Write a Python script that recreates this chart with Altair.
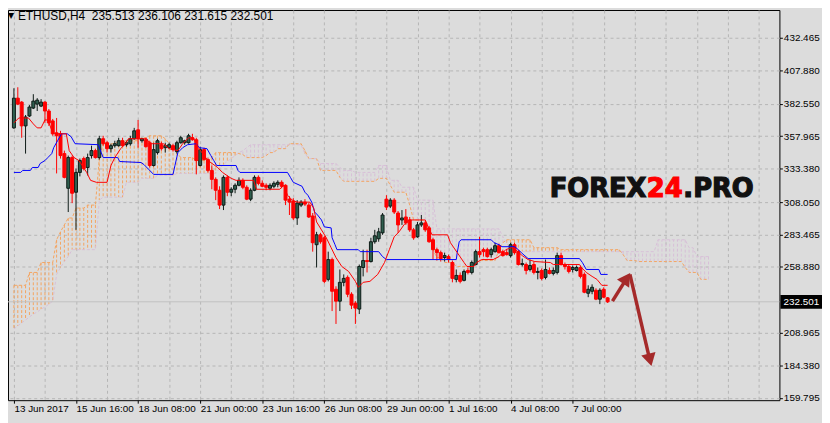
import json
import altair as alt
import pandas as pd

# ---------------- data ----------------
X_LABELS = ["13 Jun 2017", "15 Jun 16:00", "18 Jun 08:00", "21 Jun 00:00", "23 Jun 16:00",
            "26 Jun 08:00", "29 Jun 00:00", "1 Jul 16:00", "4 Jul 08:00", "7 Jul 00:00"]
Y_TICKS = [159.795, 184.380, 208.965, 258.880, 283.465, 308.050, 333.380, 357.965, 382.550, 407.880, 432.465]
LAST = 232.501
TITLE_SYMBOL = "ETHUSD,H4"
TITLE_VALUES = ["235.513", "236.106", "231.615", "232.501"]

OPEN = [364.25, 386.75, 383.75, 365.75, 373.25, 379.25, 382.25, 380.75, 383.75, 377.0,
        369.5, 360.5, 359.75, 344.75, 318.5, 341.75, 315.5, 330.5, 341.0, 334.25,
        343.25, 347.0, 341.75, 356.0, 353.0, 348.5, 350.75, 350.75, 354.5, 351.5,
        352.25, 356.0, 362.75, 354.5, 355.25, 353.0, 335.75, 345.5, 351.5, 349.25,
        349.25, 350.75, 346.25, 353.0, 353.0, 353.0, 356.75, 355.25, 335.75, 347.75,
        340.25, 332.0, 325.25, 317.0, 305.75, 326.75, 315.5, 317.75, 320.75, 324.5,
        319.25, 310.25, 317.0, 326.75, 322.25, 320.75, 318.5, 320.0, 321.5, 323.0,
        320.75, 310.25, 308.75, 296.0, 305.75, 308.0, 305.75, 297.5, 275.75, 283.25,
        281.0, 249.5, 264.5, 242.0, 233.0, 247.25, 251.0, 238.25, 231.5, 227.0,
        258.5, 263.75, 263.0, 278.0, 280.25, 284.75, 310.25, 305.0, 309.5, 299.75,
        294.5, 296.75, 294.5, 287.0, 281.75, 290.75, 292.25, 288.5, 279.5, 272.0,
        269.75, 266.0, 266.75, 262.25, 249.5, 252.5, 248.75, 256.25, 254.75, 260.75,
        270.5, 272.0, 272.0, 268.25, 270.5, 275.0, 270.5, 269.75, 267.5, 275.75,
        270.5, 260.75, 260.75, 257.0, 260.75, 254.75, 256.25, 251.0, 256.25, 254.0,
        254.75, 267.5, 260.75, 259.25, 257.0, 256.25, 258.5, 253.25, 239.0, 240.5,
        241.25, 234.5, 242.0, 235.513]
HIGH = [394.25, 395.0, 384.5, 374.0, 381.5, 389.75, 386.75, 386.0, 384.5, 378.5,
        371.0, 371.75, 362.0, 347.0, 343.25, 343.25, 333.5, 341.0, 342.5, 344.75,
        350.75, 348.5, 358.25, 358.25, 354.5, 352.25, 354.5, 356.75, 356.75, 354.5,
        358.25, 364.25, 370.25, 356.75, 356.75, 354.5, 353.0, 356.0, 353.75, 353.0,
        353.0, 352.25, 354.5, 358.25, 355.25, 359.75, 359.75, 356.75, 350.0, 349.25,
        341.75, 335.75, 326.75, 320.0, 328.25, 328.25, 319.25, 322.25, 326.75, 326.0,
        320.75, 318.5, 328.25, 328.25, 324.5, 322.25, 322.25, 323.75, 324.5, 324.5,
        321.5, 312.5, 311.0, 309.5, 309.5, 310.25, 307.25, 299.75, 285.5, 284.75,
        282.5, 270.5, 266.0, 244.25, 257.0, 253.25, 252.5, 239.75, 233.0, 260.75,
        272.0, 272.0, 281.0, 287.0, 288.5, 299.75, 313.25, 311.0, 311.0, 301.25,
        302.0, 302.75, 296.75, 288.5, 293.0, 298.25, 293.75, 290.0, 281.0, 273.5,
        271.25, 269.75, 268.25, 263.75, 257.0, 254.75, 257.0, 258.5, 263.75, 272.0,
        281.75, 273.5, 273.5, 273.5, 277.25, 276.5, 272.0, 272.0, 277.25, 277.25,
        272.0, 265.25, 262.25, 264.5, 263.0, 258.5, 257.75, 264.5, 258.5, 258.5,
        269.75, 269.75, 262.25, 260.75, 260.0, 260.0, 260.0, 254.75, 245.0, 245.75,
        242.75, 242.75, 243.5, 236.106]
LOW = [363.5, 381.5, 356.75, 344.75, 372.5, 378.5, 377.0, 380.0, 368.0, 365.75,
       358.25, 329.75, 341.0, 326.0, 300.5, 307.25, 287.0, 327.5, 332.0, 328.25,
       341.0, 341.0, 340.25, 350.75, 345.5, 345.5, 349.25, 350.0, 350.0, 350.0,
       350.75, 355.25, 349.25, 353.0, 349.25, 334.25, 335.0, 344.0, 347.0, 345.5,
       348.5, 346.25, 344.75, 352.25, 351.5, 352.25, 354.5, 329.0, 335.0, 339.5,
       330.5, 317.75, 309.5, 302.75, 302.0, 312.5, 312.5, 314.75, 320.0, 317.75,
       309.5, 308.75, 316.25, 320.75, 319.25, 317.0, 317.0, 318.5, 319.25, 318.5,
       305.75, 298.25, 294.5, 290.75, 304.25, 305.0, 296.0, 270.5, 258.5, 276.5,
       246.5, 248.0, 225.5, 215.75, 225.5, 244.25, 236.0, 227.0, 215.75, 223.25,
       251.75, 254.75, 262.25, 276.5, 278.0, 283.25, 302.0, 303.5, 299.0, 284.75,
       290.75, 290.75, 285.5, 279.5, 281.0, 289.25, 285.5, 277.25, 264.5, 263.75,
       263.0, 263.0, 262.25, 247.25, 247.25, 246.5, 248.0, 253.25, 253.25, 260.0,
       266.0, 266.75, 266.0, 266.0, 269.75, 269.0, 266.75, 267.5, 266.0, 268.25,
       260.0, 259.25, 253.25, 255.5, 253.25, 249.5, 248.75, 249.5, 253.25, 252.5,
       253.25, 260.0, 257.0, 254.0, 254.75, 255.5, 250.25, 239.0, 236.0, 238.25,
       233.75, 230.75, 235.25, 231.615]
CLOSE = [386.75, 382.25, 365.75, 372.5, 380.0, 384.5, 385.25, 383.75, 377.0, 368.0,
         359.75, 358.25, 343.25, 326.75, 341.75, 314.75, 330.5, 339.5, 333.5, 341.75,
         347.0, 341.75, 356.0, 352.25, 348.5, 350.75, 352.25, 354.5, 350.75, 353.0,
         356.0, 362.0, 356.0, 356.0, 350.0, 335.75, 347.75, 354.5, 348.5, 350.75,
         351.5, 347.75, 353.0, 356.75, 354.5, 358.25, 355.25, 339.5, 347.75, 340.25,
         332.0, 325.25, 317.0, 305.75, 326.75, 315.5, 317.75, 320.75, 324.5, 319.25,
         310.25, 317.0, 326.75, 322.25, 320.0, 319.25, 320.75, 322.25, 323.0, 320.0,
         309.5, 308.0, 296.0, 307.25, 308.0, 306.5, 296.75, 277.25, 283.25, 278.0,
         248.0, 264.5, 240.5, 233.0, 247.25, 250.25, 238.25, 230.0, 227.75, 259.25,
         263.75, 263.0, 278.0, 282.5, 285.5, 298.25, 304.25, 309.5, 300.5, 290.75,
         296.0, 292.25, 287.0, 281.0, 290.75, 292.25, 287.0, 278.0, 272.0, 269.75,
         265.25, 267.5, 264.5, 250.25, 252.5, 248.0, 255.5, 254.75, 262.25, 270.5,
         268.25, 270.5, 266.75, 272.0, 275.0, 269.75, 267.5, 268.25, 275.75, 269.75,
         260.75, 261.5, 256.25, 260.0, 254.75, 255.5, 250.25, 257.0, 254.0, 256.25,
         267.5, 260.75, 259.25, 255.5, 258.5, 258.5, 251.75, 239.75, 242.0, 243.5,
         234.5, 241.25, 236.0, 232.501]

TENKAN_I = [0, 1.25, 3.75, 5, 6, 7, 8, 8.75, 10, 11, 13.5, 14.25, 15.5, 16.75, 18.75, 19.75, 21.25, 24, 25, 26,
            27.5, 28.75, 29.5, 34.25, 35, 38.5, 40, 42.25, 43.5, 45, 46.25, 47.5, 50, 52.5, 53.75, 56, 57.25, 61.75,
            62.5, 68.5, 69.5, 70.5, 71.75, 73, 76.25, 77.25, 78, 79.25, 80.5, 81.75, 83, 84.5, 86.25, 88, 88.75, 90,
            91.75, 93.75, 95.5, 96.75, 98, 99.25, 100.5, 101.75, 106, 106.75, 107.75, 111.75, 112.5, 114.25, 116,
            116.75, 118.5, 119.25, 120.5, 123.5, 125, 126.75, 128.25, 129.25, 131, 132.5, 134.25, 138.25, 139,
            145.75, 146.25, 147.5, 149, 150.25, 151.5, 153]
TENKAN_P = [368.0, 371.75, 371.75, 367.25, 364.25, 364.25, 370.25, 370.25, 360.5, 359.75, 359.75, 347.0, 341.75,
            339.5, 330.5, 324.5, 323.0, 323.0, 335.75, 341.75, 348.5, 352.25, 356.0, 356.0, 352.25, 352.25, 348.5,
            347.0, 352.25, 356.75, 356.75, 349.25, 339.5, 334.25, 330.5, 326.0, 324.5, 324.5, 317.75, 317.75, 320.75,
            313.25, 309.5, 308.0, 308.0, 303.5, 293.0, 287.0, 281.0, 273.5, 266.0, 259.25, 255.5, 248.0, 243.5,
            247.25, 248.0, 253.25, 262.25, 272.0, 281.75, 285.5, 290.75, 294.5, 294.5, 289.25, 283.25, 283.25,
            277.25, 269.75, 262.25, 259.25, 259.25, 262.25, 264.5, 264.5, 266.75, 272.0, 273.5, 272.0, 267.5, 264.5,
            263.0, 262.25, 260.75, 260.75, 258.5, 254.75, 251.75, 249.5, 245.0, 245.0]

KIJUN_I = [0, 1.75, 2.25, 4.25, 4.75, 6.25, 6.75, 8, 8.75, 9.75, 10.25, 11.25, 12.25, 13.75, 14.75, 15.75, 21.75,
           22.5, 23, 26.75, 27.25, 32.75, 33.5, 34.75, 36, 41, 41.5, 42.25, 43.5, 44.75, 47, 47.75, 49.75, 50.75,
           51.5, 52.25, 57.25, 57.75, 58.25, 70.5, 71.25, 72, 74.25, 75, 75.75, 76.75, 77.5, 78.25, 79.25, 80,
           81.75, 82, 82.75, 83.25, 88.75, 89.25, 94, 95, 96, 114, 114.25, 114.75, 115.25, 123, 123.75, 125,
           125.75, 129, 130, 130.75, 132.5, 145.75, 146.5, 147.5, 150.75, 151.25, 153]
KIJUN_P = [330.5, 330.5, 332.0, 332.0, 334.25, 334.25, 337.25, 339.5, 341.75, 344.75, 349.25, 354.5, 359.75,
           359.75, 357.5, 352.25, 351.5, 345.5, 341.75, 341.75, 338.75, 338.0, 336.5, 332.75, 329.0, 329.0, 335.75,
           345.5, 349.25, 351.5, 352.25, 349.25, 348.5, 343.25, 339.5, 335.75, 335.75, 332.0, 330.5, 330.5, 326.75,
           323.0, 320.0, 315.5, 313.25, 308.0, 300.5, 298.25, 294.5, 289.25, 288.5, 281.0, 275.75, 272.0, 272.0,
           270.5, 270.5, 266.75, 264.5, 264.5, 269.75, 278.0, 279.5, 279.5, 277.25, 275.75, 274.25, 274.25, 272.0,
           269.75, 265.25, 265.25, 262.25, 257.0, 257.0, 253.25, 253.25]

# Senkou spans, one value per bar, written as (number of bars, price) runs
SPAN_A_RUNS = [(4, 245.0), (3, 254.75), (4, 262.25), (1, 279.5), (1, 285.5), (1, 290.75), (2, 296.0), (3, 303.5),
               (3, 305.75), (1, 341.0), (4, 352.25), (6, 354.5), (2, 356.75), (4, 358.25), (1, 356.0), (1, 352.25),
               (1, 349.25), (1, 345.5), (4, 341.75), (4, 339.5), (1, 341.75), (6, 345.5), (1, 344.75), (1, 344.0),
               (5, 341.75), (1, 343.25), (2, 345.5), (3, 348.5), (4, 352.25), (1, 347.0), (3, 341.0), (5, 332.0),
               (1, 326.75), (9, 323.75), (3, 326.0), (1, 320.75), (4, 315.5), (1, 305.75), (4, 294.5), (1, 285.5),
               (1, 272.0), (2, 266.0), (3, 262.25), (5, 259.25), (1, 263.0), (5, 263.75), (1, 272.0), (1, 277.25),
               (7, 279.5), (7, 273.5), (16, 272.0), (1, 268.25), (3, 263.75), (12, 263.0), (1, 258.5), (3, 254.75),
               (3, 249.5)]
SPAN_B_RUNS = [(1, 212.0), (1, 214.25), (1, 216.5), (1, 218.75), (1, 221.0), (1, 223.25), (1, 224.75), (1, 227.0),
               (1, 228.5), (1, 230.75), (1, 233.0), (1, 253.25), (1, 258.5), (1, 263.0), (1, 266.75), (7, 272.0),
               (1, 309.5), (6, 311.75), (4, 323.0), (4, 326.0), (5, 328.25), (11, 329.75), (1, 333.5), (1, 336.5),
               (1, 338.75), (1, 341.0), (1, 343.25), (1, 345.5), (1, 347.0), (1, 349.25), (14, 351.5), (1, 344.75),
               (3, 341.0), (5, 337.25), (1, 334.25), (3, 332.0), (6, 330.5), (3, 335.75), (3, 324.5), (4, 319.25),
               (5, 309.5), (17, 287.75), (1, 281.75), (1, 277.25), (38, 270.5), (8, 279.5), (2, 273.5), (4, 266.75)]

ARROW_I = [154.25, 158.0, 158.75, 163.6]
ARROW_P = [233.0, 250.6, 253.25, 192.0]
ARROW_SEG = ["up", "up", "down", "down"]
HEAD_I = [157.9, 163.9]
HEAD_P = [250.3, 188.5]
HEAD_ANGLE = [34, 166]

# ---------------- styling ----------------
BG = "#dcdcdc"
GRID = "#b5b5b5"
FONT = "Liberation Sans"
BULL_FILL = "#2f5f4f"
BULL_LINE = "#0d1a16"
BEAR = "#ff0000"
W, H = 779, 394


def expand(runs):
    out = []
    for n, v in runs:
        out += [v] * n
    return out


candles = pd.DataFrame({"i": list(range(len(OPEN))), "o": OPEN, "h": HIGH, "l": LOW, "c": CLOSE})
span_a = expand(SPAN_A_RUNS)
span_b = expand(SPAN_B_RUNS)
cloud = pd.DataFrame({"i": list(range(len(span_a))), "a": span_a, "b": span_b})
tenkan = pd.DataFrame({"i": TENKAN_I, "p": TENKAN_P})
kijun = pd.DataFrame({"i": KIJUN_I, "p": KIJUN_P})
arrow = pd.DataFrame({"i": ARROW_I, "p": ARROW_P, "seg": ARROW_SEG})
heads = pd.DataFrame({"i": HEAD_I, "p": HEAD_P, "ang": HEAD_ANGLE})
last = pd.DataFrame({"p": [LAST]})

xs = alt.Scale(domain=[-0.25, 196], nice=False, zero=False)
ys = alt.Scale(domain=[158.0, 453.5], nice=False, zero=False)

label_expr = ("datum.value % 16 === 0 && datum.value <= 144 ? "
              + json.dumps(X_LABELS) + "[datum.value / 16] : ''")
x_axis = alt.Axis(values=list(range(0, 193, 8)), grid=True, gridDash=[3, 3], gridColor=GRID, gridWidth=1,
                  labelExpr=label_expr, labelAlign="left", labelBaseline="top", labelPadding=0,
                  labelFont=FONT, labelFontSize=10, labelColor="#000000", labelOverlap=False, labelFlush=False,
                  tickSize=3, tickColor="#000000",
                  tickOpacity={"condition": {"test": "datum.value % 16 === 0 && datum.value <= 144", "value": 1},
                               "value": 0},
                  domain=False, title=None)
y_axis = alt.Axis(values=Y_TICKS, format=".3f", orient="right", grid=True, gridDash=[3, 3], gridColor=GRID,
                  labelFont=FONT, labelFontSize=10, labelColor="#000000", labelPadding=1, labelOverlap=False,
                  labelFlush=False, tickSize=3, tickColor="#000000", domain=False, title=None)


def X(f):
    return alt.X(f + ":Q", scale=xs, axis=x_axis, title=None)


def Y(f):
    return alt.Y(f + ":Q", scale=ys, axis=y_axis, title=None)


hatch_a = alt.Chart(cloud).transform_filter("datum.a >= datum.b").mark_rule(
    color="#f4a460", strokeDash=[3, 2], strokeWidth=1).encode(x=X("i"), y=Y("a"), y2="b")
hatch_b = alt.Chart(cloud).transform_filter("datum.a < datum.b").mark_rule(
    color="#d8bfd8", strokeDash=[3, 2], strokeWidth=1).encode(x=X("i"), y=Y("a"), y2="b")
line_a = alt.Chart(cloud).mark_line(color="#f4a460", strokeDash=[3, 2], strokeWidth=1).encode(x=X("i"), y=Y("a"))
line_b = alt.Chart(cloud).mark_line(color="#d8bfd8", strokeDash=[3, 2], strokeWidth=1).encode(x=X("i"), y=Y("b"))

bid = alt.Chart(last).mark_rule(color="#c0c0c0", strokeWidth=1).encode(
    y=Y("p"), x=alt.value(0), x2=alt.value(W))

wick_up = alt.Chart(candles).transform_filter("datum.c >= datum.o").mark_rule(
    color=BULL_LINE, strokeWidth=1).encode(x=X("i"), y=Y("l"), y2="h")
wick_dn = alt.Chart(candles).transform_filter("datum.c < datum.o").mark_rule(
    color=BEAR, strokeWidth=1).encode(x=X("i"), y=Y("l"), y2="h")
body_up = alt.Chart(candles).transform_filter("datum.c >= datum.o").mark_bar(
    size=3, fill=BULL_FILL, stroke=BULL_LINE, strokeWidth=1).encode(x=X("i"), y=Y("o"), y2="c")
body_dn = alt.Chart(candles).transform_filter("datum.c < datum.o").mark_bar(
    size=3, fill=BEAR, stroke=BEAR, strokeWidth=1).encode(x=X("i"), y=Y("o"), y2="c")

kijun_line = alt.Chart(kijun).mark_line(color="#0000ff", strokeWidth=1).encode(x=X("i"), y=Y("p"))
tenkan_line = alt.Chart(tenkan).mark_line(color="#ff0000", strokeWidth=1).encode(x=X("i"), y=Y("p"))

arrow_lines = alt.Chart(arrow).mark_line(color="#a52a2a", strokeWidth=3.5, strokeCap="butt").encode(
    x=X("i"), y=Y("p"), detail="seg:N")
arrow_heads = alt.Chart(heads).mark_point(shape="triangle-up", filled=True, size=220, color="#a52a2a",
                                          opacity=1).encode(x=X("i"), y=Y("p"),
                                                            angle=alt.Angle("ang:Q", scale=None))

price_box = alt.Chart(last).mark_rect(color="#000000", yOffset=-7, y2Offset=7).encode(
    y=Y("p"), y2="p", x=alt.value(W + 1), x2=alt.value(W + 43))
price_txt = alt.Chart(last).mark_text(align="left", baseline="middle", color="#ffffff", font=FONT,
                                      fontSize=10).encode(y=Y("p"), x=alt.value(W + 4),
                                                          text=alt.Text("p:Q", format=".3f"))

title_df = pd.DataFrame({"t": [TITLE_SYMBOL + "\u00a0\u00a0" + " ".join(TITLE_VALUES)]})
tri = alt.Chart(title_df).mark_text(text="\u25bc", align="left", baseline="alphabetic", font="DejaVu Sans",
                                    fontSize=8, color="#000000").encode(x=alt.value(0), y=alt.value(8))
title = alt.Chart(title_df).mark_text(align="left", baseline="alphabetic", font=FONT, fontSize=12,
                                      color="#000000").encode(x=alt.value(10), y=alt.value(10), text="t:N")

logo_df = pd.DataFrame({"a": ["FOREX"], "b": ["24"], "c": [".PRO"]})
logo_style = dict(baseline="alphabetic", font="DejaVu Sans", fontWeight="bold", fontSize=26, align="left")
logo1 = alt.Chart(logo_df).mark_text(color="#111111", stroke="#111111", strokeWidth=1.2,
                                     **logo_style).encode(x=alt.value(547), y=alt.value(189), text="a:N")
logo2 = alt.Chart(logo_df).mark_text(color="#ff0000", stroke="#ff0000", strokeWidth=1.2,
                                     **logo_style).encode(x=alt.value(645), y=alt.value(189), text="b:N")
logo3 = alt.Chart(logo_df).mark_text(color="#111111", stroke="#111111", strokeWidth=1.2,
                                     **logo_style).encode(x=alt.value(682), y=alt.value(189), text="c:N")

chart = alt.layer(
    hatch_a, hatch_b, line_a, line_b, bid, wick_up, wick_dn, body_up, body_dn,
    kijun_line, tenkan_line, arrow_lines, arrow_heads, price_box, price_txt,
    tri, title, logo1, logo2, logo3,
).properties(
    width=W, height=H,
    autosize=alt.AutoSizeParams(type="none"),
    padding={"left": 0, "top": 0, "right": 43, "bottom": 21},
    background=BG,
).configure_view(stroke="#000000", strokeWidth=1, fill=BG)

chart.save("out.html", embed_options={"renderer": "svg", "actions": False})
